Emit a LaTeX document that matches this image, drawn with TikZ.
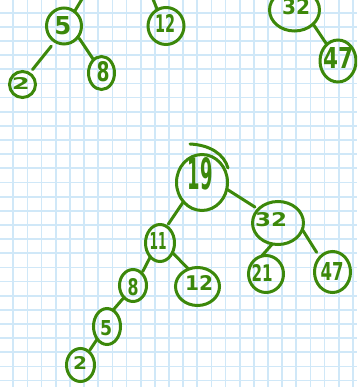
\documentclass[tikz,border=0pt]{standalone}
\usepackage{fontspec}
\usepackage{graphicx}
\setmainfont{DejaVu Sans}
\usetikzlibrary{shapes.geometric}
\definecolor{gridblue}{RGB}{208,232,248}
\definecolor{ink}{RGB}{60,136,10}
\newcommand\digs[3]{\resizebox{#1pt}{#2pt}{\bfseries #3}}
\begin{document}
\begin{tikzpicture}[x=1pt,y=-1pt,
  bnode/.style={draw=ink, line width=3pt, ellipse, inner sep=0pt, outer sep=0pt},
  lbl/.style={text=ink, inner sep=0pt, outer sep=0pt},
  edge/.style={draw=ink, line width=3pt, line cap=round},
  gridline/.style={draw=gridblue, line width=1.7pt}]
\useasboundingbox (0,0) rectangle (357,387);
\clip (0,0) rectangle (357,387);
\fill[white] (0,0) rectangle (357,387);
\foreach \i in {0,...,25} {\draw[gridline] ({13.3+14.15*\i},0) -- ({13.3+14.15*\i},387);}
\foreach \j in {0,...,27} {\draw[gridline] (0,{12.7+14.15*\j}) -- (357,{12.7+14.15*\j});}

% ---------- top row (partial trees) ----------
\node[bnode, minimum width=35pt, minimum height=36pt] (t5) at (64,26) {};
\node[lbl] (t5l) at (63,26) {\digs{17}{18}{5}};
\node[bnode, minimum width=26pt, minimum height=26pt] (t2) at (22.5,84.5) {};
\node[lbl] (t2l) at (21,84) {\digs{18}{12}{2}};
\node[bnode, minimum width=26pt, minimum height=33pt] (t8) at (101.5,73) {};
\node[lbl] (t8l) at (103,72) {\digs{13}{20}{8}};
\node[bnode, minimum width=36pt, minimum height=37pt] (t12) at (166,26) {};
\node[lbl] (t12l) at (165,24) {\digs{20}{18}{12}};
\node[bnode, minimum width=50pt, minimum height=42pt] (t32) at (294.5,10) {};
\node[lbl] (t32l) at (296,7) {\digs{28}{16}{32}};
\node[bnode, minimum width=36pt, minimum height=42pt] (t47) at (338,61) {};
\node[lbl] (t47l) at (338,58) {\digs{30}{21}{47}};
\coordinate (p5) at (85,-6);
\coordinate (p12) at (150,-8);

\draw[edge] (t5.54) -- (p5);
\draw[edge] (t12.118) -- (p12);
\draw[edge, shorten <=6pt, shorten >=5pt] (t5.240) -- (t2.58);
\draw[edge, shorten <=2pt, shorten >=1pt] (t5.323) -- (t8.121);
\draw[edge, shorten <=1pt] (t32.323) -- (t47.124);

% ---------- main tree ----------
\node[bnode, minimum width=51pt, minimum height=56pt] (m19) at (202,182.5) {};
\node[lbl] (m19l) at (200,174) {\digs{25}{32}{19}};
\node[bnode, minimum width=51pt, minimum height=43pt] (m32) at (278,223) {};
\node[lbl] (m32l) at (271,220) {\digs{32}{14}{32}};
\node[bnode, minimum width=29pt, minimum height=37pt] (m11) at (160,243) {};
\node[lbl] (m11l) at (158,241) {\digs{17}{17}{11}};
\node[bnode, minimum width=44pt, minimum height=38pt] (m12) at (197.5,286.5) {};
\node[lbl] (m12l) at (199,283) {\digs{28}{15}{12}};
\node[bnode, minimum width=35pt, minimum height=37pt] (m21) at (266,274) {};
\node[lbl] (m21l) at (262,273) {\digs{21}{17}{21}};
\node[bnode, minimum width=36pt, minimum height=41pt] (m47) at (332.5,272) {};
\node[lbl] (m47l) at (332,271) {\digs{23}{18}{47}};
\node[bnode, minimum width=27pt, minimum height=32pt] (m8) at (133,285.5) {};
\node[lbl] (m8l) at (133,287) {\digs{11}{17}{8}};
\node[bnode, minimum width=27pt, minimum height=36pt] (m5) at (107,326.5) {};
\node[lbl] (m5l) at (106,328) {\digs{12}{15}{5}};
\node[bnode, minimum width=28pt, minimum height=33pt] (m2) at (80.5,365) {};
\node[lbl] (m2l) at (80,363) {\digs{14}{13}{2}};

% overshoot stroke of the root circle
\draw[edge] (190,144) .. controls (210,145) and (224,154) .. (228,168);

\draw[edge, shorten >=3pt] (m19.226) -- (m11.68);
\draw[edge, shorten >=4pt] (m19.345) -- (m32.145);
\draw[edge] (m32.255) -- (m21.104);
\draw[edge, shorten >=6pt] (m32.345) -- (m47.131);
\draw[edge, shorten >=1pt] (m11.322) -- (m12.117);
\draw[edge, shorten >=2pt] (m11.235) -- (m8.54);
\draw[edge] (m8.233) -- (m5.70);
\draw[edge, shorten >=2pt] (m5.232) -- (m2.58);
\end{tikzpicture}
\end{document}
